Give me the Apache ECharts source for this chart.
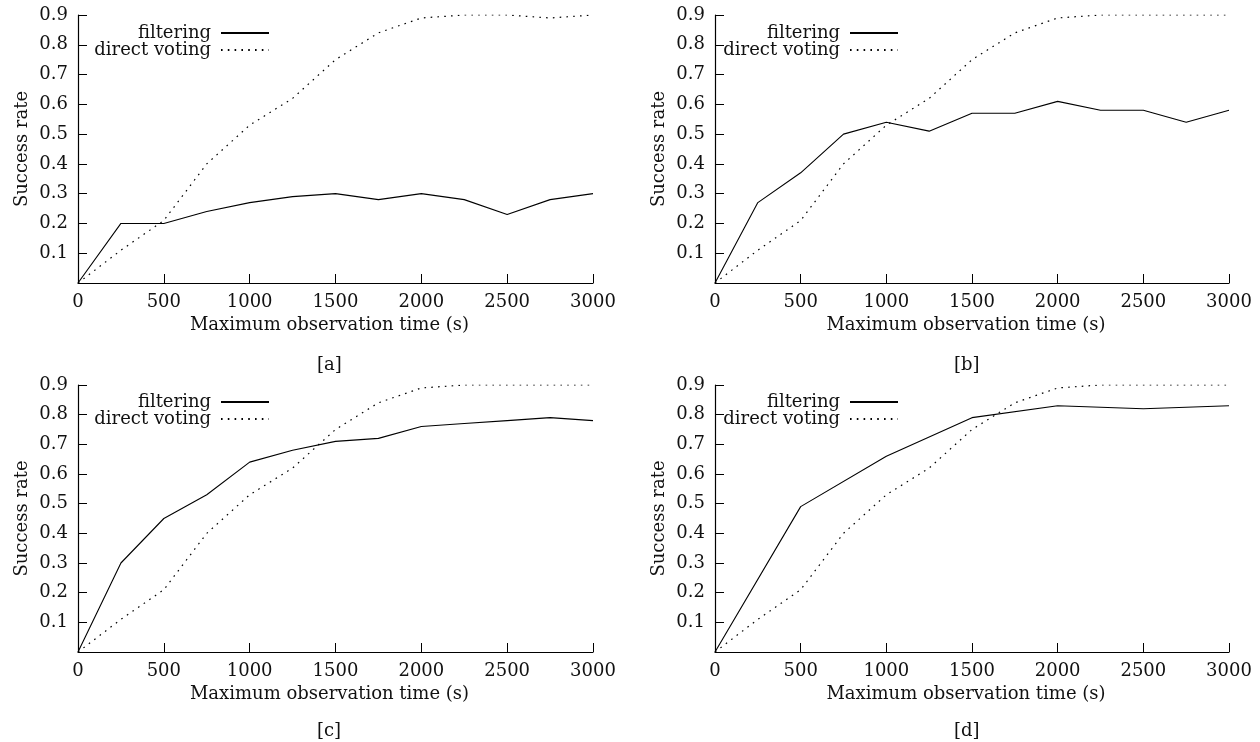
<!DOCTYPE html>
<html>
<head>
<meta charset="utf-8">
<script src="https://cdn.jsdelivr.net/npm/echarts@6/dist/echarts.min.js"></script>
<style>
  html, body { margin: 0; padding: 0; background: #fff; }
  #chart { width: 1260px; height: 742px; }
</style>
</head>
<body>
<div id="chart"></div>
<script>
var FONT = 'DejaVu Serif';
var FS = 18;

// observation times (s)
var timesDense = [0, 250, 500, 750, 1000, 1250, 1500, 1750, 2000, 2250, 2500, 2750, 3000];
var timesSparse = [0, 500, 1000, 1500, 2000, 2500, 3000];

// success rates
var filteringA = [0, 0.20, 0.20, 0.24, 0.27, 0.29, 0.30, 0.28, 0.30, 0.28, 0.23, 0.28, 0.30];
var votingA    = [0, 0.11, 0.21, 0.40, 0.53, 0.62, 0.75, 0.84, 0.89, 0.90, 0.90, 0.89, 0.90];
var filteringB = [0, 0.27, 0.37, 0.50, 0.54, 0.51, 0.57, 0.57, 0.61, 0.58, 0.58, 0.54, 0.58];
var votingB    = [0, 0.11, 0.21, 0.40, 0.53, 0.62, 0.75, 0.84, 0.89, 0.90, 0.90, 0.90, 0.90];
var filteringC = [0, 0.30, 0.45, 0.53, 0.64, 0.68, 0.71, 0.72, 0.76, 0.77, 0.78, 0.79, 0.78];
var votingC    = [0, 0.11, 0.21, 0.40, 0.53, 0.62, 0.75, 0.84, 0.89, 0.90, 0.90, 0.90, 0.90];
var filteringD = [0, 0.49, 0.66, 0.79, 0.83, 0.82, 0.83];
var votingD    = [0, 0.11, 0.21, 0.40, 0.53, 0.62, 0.75, 0.84, 0.89, 0.90, 0.90, 0.90, 0.90];

var panelLabels = ['[a]', '[b]', '[c]', '[d]'];
var xTicks = [0, 500, 1000, 1500, 2000, 2500, 3000];
var yTicks = [0.1, 0.2, 0.3, 0.4, 0.5, 0.6, 0.7, 0.8, 0.9];

function pairs(xs, ys) {
  return xs.map(function (x, i) { return [x, ys[i]]; });
}

var panels = [
  { grid: { left: 78, right: 667, top: 15, bottom: 459 }, f: pairs(timesDense, filteringA), v: pairs(timesDense, votingA), legend: { right: 990, top: 24 }, label: { left: 317, top: 356 } },
  { grid: { left: 715, right: 31, top: 15, bottom: 459 }, f: pairs(timesDense, filteringB), v: pairs(timesDense, votingB), legend: { right: 361, top: 24 }, label: { left: 954, top: 356 } },
  { grid: { left: 78, right: 667, top: 385, bottom: 90 }, f: pairs(timesDense, filteringC), v: pairs(timesDense, votingC), legend: { right: 990, top: 393 }, label: { left: 317, top: 722 } },
  { grid: { left: 715, right: 31, top: 385, bottom: 90 }, f: pairs(timesSparse, filteringD), v: pairs(timesDense, votingD), legend: { right: 361, top: 393 }, label: { left: 954, top: 722 } }
];

var chart = echarts.init(document.getElementById('chart'));

var axisLine = { show: true, lineStyle: { color: '#000', width: 1.2 } };
var axisTick = { show: true, inside: true, length: 9, lineStyle: { color: '#000', width: 1 } };
var labelStyle = { color: '#111', fontFamily: FONT, fontSize: FS };

var option = {
  backgroundColor: '#fff',
  animation: false,
  title: panels.map(function (p, i) {
    return {
      text: panelLabels[i], left: p.label.left, top: p.label.top, padding: 0,
      textStyle: { color: '#111', fontFamily: FONT, fontSize: FS, fontWeight: 'normal' }
    };
  }),
  legend: panels.map(function (p) {
    return {
      orient: 'vertical', align: 'right', right: p.legend.right, top: p.legend.top,
      padding: 0, itemGap: -1, itemWidth: 48, itemHeight: 10,
      data: ['filtering', 'direct voting'],
      itemStyle: { opacity: 0 },
      textStyle: { color: '#111', fontFamily: FONT, fontSize: FS, padding: [0, 5, 0, 0] }
    };
  }),
  grid: panels.map(function (p) { return p.grid; }),
  xAxis: panels.map(function (p, i) {
    return {
      type: 'value', gridIndex: i, min: xTicks[0], max: xTicks[xTicks.length - 1], interval: 500,
      name: 'Maximum observation time (s)', nameLocation: 'middle', nameGap: 33,
      nameTextStyle: { color: '#111', fontFamily: FONT, fontSize: FS, padding: [0, 12, 0, 0] },
      axisLine: axisLine, axisTick: axisTick,
      axisLabel: Object.assign({
        margin: 10,
        formatter: function (v) { return String(v); }
      }, labelStyle),
      splitLine: { show: false }
    };
  }),
  yAxis: panels.map(function (p, i) {
    return {
      type: 'value', gridIndex: i, min: 0, max: yTicks[yTicks.length - 1], interval: 0.1,
      name: 'Success rate', nameLocation: 'middle', nameGap: 47,
      nameTextStyle: { color: '#111', fontFamily: FONT, fontSize: FS },
      axisLine: axisLine, axisTick: axisTick,
      axisLabel: Object.assign({
        margin: 10,
        formatter: function (v) { return v === 0 ? '' : v.toFixed(1); }
      }, labelStyle),
      splitLine: { show: false }
    };
  }),
  series: []
};

panels.forEach(function (p, i) {
  option.series.push({
    name: 'filtering', type: 'line', xAxisIndex: i, yAxisIndex: i,
    data: p.f, symbol: 'none', color: '#000',
    lineStyle: { color: '#000', width: 1.1 }
  });
  option.series.push({
    name: 'direct voting', type: 'line', xAxisIndex: i, yAxisIndex: i,
    data: p.v, symbol: 'none', color: '#000',
    lineStyle: { color: '#000', width: 1.2, type: [1.6, 5.2] }
  });
});

chart.setOption(option);
</script>
</body>
</html>
